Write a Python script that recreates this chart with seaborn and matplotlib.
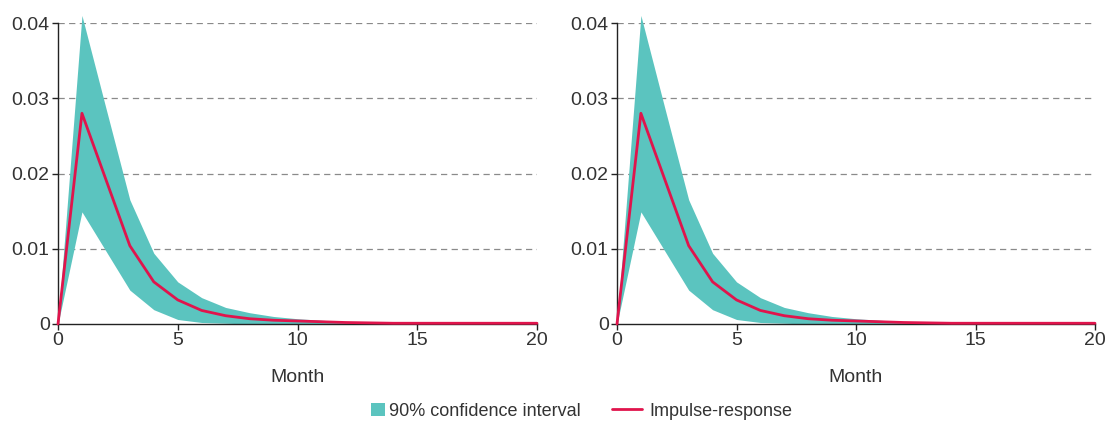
import matplotlib
matplotlib.use("Agg")
import matplotlib.pyplot as plt
import matplotlib.font_manager as fm
from matplotlib.patches import Patch, Rectangle
from matplotlib.lines import Line2D
from matplotlib.legend_handler import HandlerPatch
import seaborn as sns
import pandas as pd

# Impulse-response of the shock, by month after impact
months = list(range(0, 21))
response = [0.0, 0.0280, 0.0192, 0.0104, 0.0056, 0.0032, 0.0018, 0.0011, 0.0007,
            0.0005, 0.0004, 0.0003, 0.0002, 0.00015, 0.0001, 0.0001, 0.0001,
            0.0001, 0.0001, 0.0001, 0.0001]
ci_upper = [0.0, 0.0410, 0.0287, 0.0165, 0.0094, 0.0056, 0.0035, 0.0022, 0.0015,
            0.0010, 0.0007, 0.0005, 0.0003, 0.0002, 0.00015, 0.0001, 0.0001,
            0.0001, 0.0001, 0.0001, 0.0001]
ci_lower = [0.0, 0.0149, 0.0097, 0.0045, 0.0019, 0.0006, 0.0002, 0.0001, 0.0,
            0.0, 0.0, 0.0, 0.0, 0.0, 0.0, 0.0, 0.0, 0.0, 0.0, 0.0, 0.0]

y_ticks = [0, 0.01, 0.02, 0.03, 0.04]
y_tick_labels = ["0", "0.01", "0.02", "0.03", "0.04"]
x_ticks = [0, 5, 10, 15, 20]

BAND = "#5BC4BF"
LINE = "#E0144C"
TEXT = "#333333"

sns.set_theme(style="white")
available = {f.name for f in fm.fontManager.ttflist}
family = "Liberation Sans Narrow" if "Liberation Sans Narrow" in available else "Liberation Sans"
plt.rcParams["font.family"] = [family, "DejaVu Sans"]

df = pd.DataFrame({"month": months, "response": response,
                   "upper": ci_upper, "lower": ci_lower})

fig = plt.figure(figsize=(11.11, 4.24), dpi=100)
ax_left = fig.add_axes([58 / 1111, 1 - 324 / 424, (537 - 58) / 1111, (324 - 23) / 424])
ax_right = fig.add_axes([617 / 1111, 1 - 324 / 424, (1095 - 617) / 1111, (324 - 23) / 424])

for ax in (ax_left, ax_right):
    ax.fill_between(df["month"], df["lower"], df["upper"], color=BAND,
                    linewidth=0, clip_on=False, zorder=2)
    sns.lineplot(data=df, x="month", y="response", ax=ax, color=LINE,
                 linewidth=2.0, clip_on=False, zorder=3)
    ax.set_xlim(0, 20)
    ax.set_ylim(0, 0.04)
    ax.set_yticks(y_ticks)
    ax.set_yticklabels(y_tick_labels)
    ax.set_xticks(x_ticks)
    ax.set_xlabel("Month", fontsize=14, color=TEXT, labelpad=14)
    ax.set_ylabel("")
    for t in y_ticks[1:]:
        ax.axhline(t, color="#8a8a8a", linewidth=0.9, linestyle=(0, (5, 3.5)), zorder=1)
    for side in ("top", "right"):
        ax.spines[side].set_visible(False)
    for side in ("left", "bottom"):
        ax.spines[side].set_color("#222222")
        ax.spines[side].set_linewidth(1.0)
    ax.tick_params(axis="both", which="major", direction="out", length=4, width=1.0,
                   color="#222222", labelsize=14, labelcolor=TEXT, pad=2,
                   bottom=True, left=True)
    ax.grid(False)


class SquarePatchHandler(HandlerPatch):
    """Legend handle drawn as a small square at the right end of the handle box."""

    def create_artists(self, legend, orig_handle, xdescent, ydescent,
                       width, height, fontsize, trans):
        side = fontsize * 0.75
        rect = Rectangle((width - side - xdescent + 2, -ydescent + (height - side) / 2),
                         side, side, facecolor=orig_handle.get_facecolor(),
                         edgecolor="none", transform=trans)
        return [rect]


band_handle = Patch(facecolor=BAND, edgecolor="none", label="90% confidence interval")
line_handle = Line2D([0], [0], color=LINE, linewidth=2.0, label="Impulse-response")
fig.legend(handles=[band_handle, line_handle], loc="center",
           bbox_to_anchor=(572 / 1111, 1 - 411 / 424),
           ncol=2, frameon=False, fontsize=13, handlelength=1.7, handleheight=0.8,
           columnspacing=1.7, handletextpad=0.4, labelcolor=TEXT,
           handler_map={Patch: SquarePatchHandler()})

fig.savefig("out.png", dpi=100)
